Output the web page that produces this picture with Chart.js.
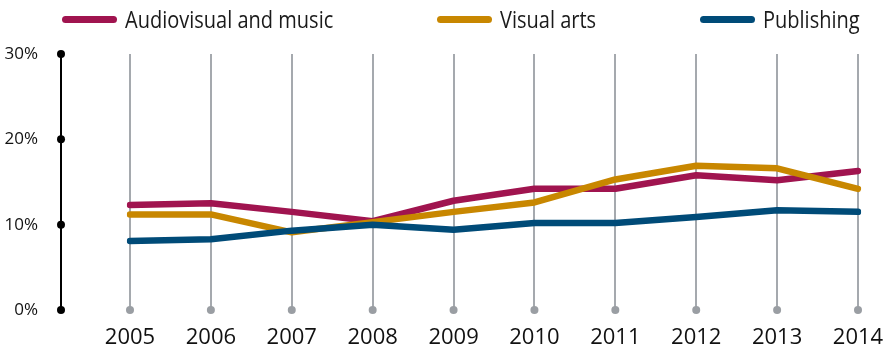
<!DOCTYPE html>
<html>
<head>
<meta charset="utf-8">
<script src="https://cdn.jsdelivr.net/npm/chart.js@4.4.0/dist/chart.umd.min.js"></script>
<style>
  body { margin: 0; background: #fff; }
  #wrap { position: relative; width: 883px; height: 354px; }
  #legend { position: absolute; left: 0; top: 0; width: 883px; height: 40px; font: 23px "Open Sans", sans-serif; color: #1a1a1a; }
  .item { position: absolute; top: 5px; height: 28px; display: flex; align-items: center; white-space: nowrap; }
  .swatch { width: 55px; height: 7px; border-radius: 4px; margin-right: 8px; }
  .label { display: inline-block; transform: scaleX(0.87); transform-origin: left center; }
</style>
</head>
<body>
<div id="wrap">
  <div id="legend"></div>
  <canvas id="chart" width="883" height="354"></canvas>
</div>
<script>
const years = ["2005","2006","2007","2008","2009","2010","2011","2012","2013","2014"];
const audiovisual = [12.3, 12.5, 11.5, 10.4, 12.8, 14.2, 14.2, 15.8, 15.2, 16.3];
const visualArts  = [11.2, 11.2, 9.1, 10.3, 11.5, 12.6, 15.3, 16.9, 16.6, 14.2];
const publishing  = [8.1, 8.3, 9.3, 10.0, 9.4, 10.2, 10.2, 10.9, 11.7, 11.5];
const seriesNames = ["Audiovisual and music", "Visual arts", "Publishing"];
const seriesColors = ["#a0144f", "#c88700", "#004b78"];
const yTicks = [0, 10, 20, 30];

// html legend, items placed like the original
const legendLeft = [62, 437, 700];
const legend = document.getElementById("legend");
seriesNames.forEach((name, i) => {
  const item = document.createElement("div");
  item.className = "item";
  item.style.left = legendLeft[i] + "px";
  const sw = document.createElement("span");
  sw.className = "swatch";
  sw.style.background = seriesColors[i];
  const txt = document.createElement("span");
  txt.className = "label";
  txt.textContent = name;
  item.appendChild(sw);
  item.appendChild(txt);
  legend.appendChild(item);
});

// black y axis with dots, grey dots at the foot of each year line
const axisDeco = {
  id: "axisDeco",
  afterDraw(chart) {
    const ctx = chart.ctx;
    const x = chart.scales.x, y = chart.scales.y;
    const step = x.getPixelForValue(1) - x.getPixelForValue(0);
    const ax = x.getPixelForValue(0) - step * 0.853;
    ctx.save();
    ctx.strokeStyle = "#000";
    ctx.lineWidth = 2;
    ctx.beginPath();
    ctx.moveTo(ax, y.getPixelForValue(30));
    ctx.lineTo(ax, y.getPixelForValue(0));
    ctx.stroke();
    ctx.fillStyle = "#000";
    yTicks.forEach(v => {
      ctx.beginPath();
      ctx.arc(ax, y.getPixelForValue(v), 4, 0, Math.PI * 2);
      ctx.fill();
    });
    ctx.fillStyle = "#9a9ea3";
    years.forEach((_, i) => {
      ctx.beginPath();
      ctx.arc(x.getPixelForValue(i), y.getPixelForValue(0), 4, 0, Math.PI * 2);
      ctx.fill();
    });
    ctx.restore();
  }
};

new Chart(document.getElementById("chart"), {
  type: "line",
  data: {
    labels: years,
    datasets: [audiovisual, visualArts, publishing].map((d, i) => ({
      label: seriesNames[i],
      data: d,
      order: 3 - i, // publishing on top, audiovisual at the bottom
      borderColor: seriesColors[i],
      backgroundColor: seriesColors[i],
      borderWidth: 6.5,
      pointRadius: 0,
      tension: 0,
      borderCapStyle: "round",
      borderJoinStyle: "round",
      fill: false
    }))
  },
  options: {
    responsive: false,
    animation: false,
    layout: { padding: { top: 54, right: 25, bottom: 0, left: 0 } },
    plugins: { legend: { display: false }, tooltip: { enabled: false } },
    scales: {
      x: {
        z: 1,
        offset: false,
        afterFit: s => { s.height = 44; s.paddingLeft = 0; s.paddingRight = 0; },
        grid: { color: "#a5a9ae", lineWidth: 2, drawTicks: false },
        border: { display: false },
        ticks: { padding: 15, maxRotation: 0, autoSkip: false, color: "#111", font: { family: "Open Sans", size: 22 } }
      },
      y: {
        min: 0, max: 30,
        afterFit: s => { s.width = 130; s.paddingTop = 0; s.paddingBottom = 0; },
        afterBuildTicks: s => { s.ticks = yTicks.map(v => ({ value: v })); },
        grid: { display: false, drawTicks: false },
        border: { display: false },
        ticks: { padding: 92, color: "#111", font: { family: "Open Sans", size: 17 }, callback: v => v + "%" }
      }
    }
  },
  plugins: [axisDeco]
});
</script>
</body>
</html>
